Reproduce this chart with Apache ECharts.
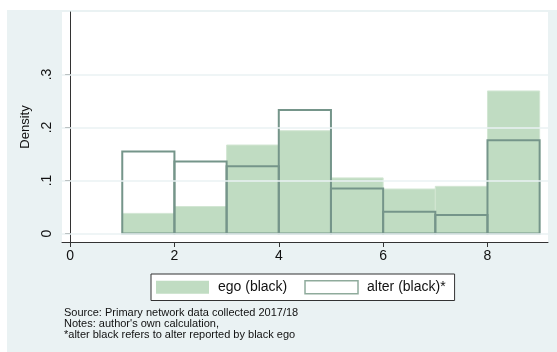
<!DOCTYPE html>
<html>
<head>
<meta charset="utf-8">
<script src="https://cdn.jsdelivr.net/npm/echarts@6/dist/echarts.min.js"></script>
<style>
  html, body { margin: 0; padding: 0; background: #fff; }
  #main { width: 557px; height: 352px; }
</style>
</head>
<body>
<div id="main"></div>
<script>
// histogram bins (width 1), density per bin
var binStart = [1, 2, 3, 4, 5, 6, 7, 8]
var binWidth = 1
var egoDensity = [0.038, 0.051, 0.167, 0.194, 0.105, 0.084, 0.089, 0.269]
var alterDensity = [0.155, 0.136, 0.127, 0.233, 0.085, 0.041, 0.035, 0.176]
var xTicks = [0, 2, 4, 6, 8]
var yTicks = [0, 0.1, 0.2, 0.3]
var notes = [
  'Source: Primary network data collected 2017/18',
  "Notes: author's own calculation,",
  '*alter black refers to alter reported by black ego'
]

var font = '"Liberation Sans", Arial, Helvetica, sans-serif'

function toRows (vals) {
  return vals.map(function (v, i) { return [binStart[i], binStart[i] + binWidth, v] })
}

function barRenderer (style) {
  return function (params, api) {
    var p0 = api.coord([api.value(0), api.value(2)])
    var p1 = api.coord([api.value(1), 0])
    return {
      type: 'rect',
      shape: { x: p0[0], y: p0[1], width: p1[0] - p0[0], height: p1[1] - p0[1] },
      style: style
    }
  }
}

var chart = echarts.init(document.getElementById('main'))
chart.setOption({
  animation: false,
  backgroundColor: '#fff',
  textStyle: { fontFamily: font },
  graphic: [
    { type: 'rect', z: -10, shape: { x: 7, y: 10, width: 560, height: 350 }, style: { fill: '#eaf2f3' } }
  ].concat(notes.map(function (t, i) {
    return { type: 'text', left: 64, top: 307 + i * 11.3, style: { text: t, font: '11px ' + font, fill: '#111' } }
  })),
  grid: {
    left: 62, right: 9, top: 12, bottom: 110,
    show: true, backgroundColor: '#fff', borderWidth: 0
  },
  legend: {
    left: 151, top: 274,
    padding: [6, 9, 6, 5],
    itemGap: 17,
    itemWidth: 53, itemHeight: 13,
    borderColor: '#333', borderWidth: 1,
    backgroundColor: '#fff',
    textStyle: { fontSize: 14, color: '#111', fontFamily: font, padding: [0, 0, 0, 4] },
    data: [
      { name: 'ego (black)', icon: 'rect', itemStyle: { color: '#c0dcc2', borderWidth: 0 } },
      { name: 'alter (black)*', icon: 'rect', itemStyle: { color: '#fff', borderColor: '#8fab9c', borderWidth: 1.5 } }
    ]
  },
  xAxis: {
    type: 'value', min: -0.155, max: 9.16,
    axisLine: { show: true, onZero: false, lineStyle: { color: '#333', width: 1 } },
    axisTick: { show: true, length: 5, customValues: xTicks, lineStyle: { color: '#333' } },
    axisLabel: { customValues: xTicks, fontSize: 14, color: '#111', margin: 7 },
    splitLine: { show: false }
  },
  yAxis: {
    type: 'value', min: -0.016, max: 0.418,
    name: 'Density', nameLocation: 'middle', nameGap: 28, nameRotate: 90,
    nameTextStyle: { fontSize: 13, color: '#111' },
    axisLine: { show: true, lineStyle: { color: '#333', width: 1 } },
    axisTick: { show: true, length: 5, customValues: yTicks, lineStyle: { color: '#333' } },
    axisLabel: {
      customValues: yTicks, rotate: 90, fontSize: 14, color: '#111', margin: 8,
      formatter: function (v) { return v === 0 ? '0' : String(v).replace(/^0/, '') }
    },
    splitLine: { show: false }
  },
  series: [
    {
      name: 'ego (black)',
      type: 'custom',
      itemStyle: { color: '#c0dcc2' },
      encode: { x: [0, 1], y: 2 },
      renderItem: barRenderer({ fill: '#c0dcc2', stroke: '#d2e6d3', lineWidth: 1 }),
      data: toRows(egoDensity),
      markLine: {
        silent: true, symbol: 'none', label: { show: false },
        lineStyle: { color: '#eaf2f3', type: 'solid', width: 1.5 },
        data: yTicks.map(function (v) { return { yAxis: v } })
      },
      z: 2
    },
    {
      name: 'alter (black)*',
      type: 'custom',
      itemStyle: { color: '#fff', borderColor: '#8fab9c' },
      encode: { x: [0, 1], y: 2 },
      renderItem: barRenderer({ fill: 'none', stroke: '#75958a', lineWidth: 2 }),
      data: toRows(alterDensity),
      z: 3
    }
  ]
})
</script>
</body>
</html>
